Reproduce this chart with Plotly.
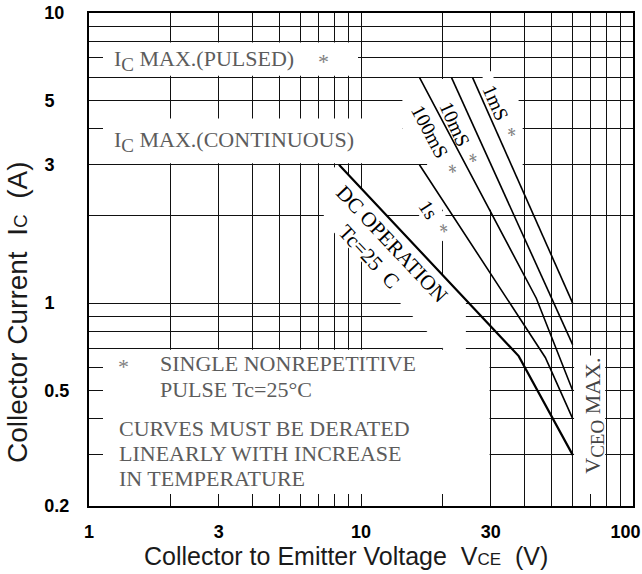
import math
import numpy as np
import plotly.graph_objects as go

# ---------------- data ----------------
vce_1ms = [25.7, 60.0]
ic_1ms = [6.0, 1.0]
vce_10ms = [21.5, 60.0]
ic_10ms = [6.0, 0.72]
vce_100ms = [16.4, 44.1, 60.0]
ic_100ms = [6.0, 1.04, 0.5]
vce_1s = [16.4, 47.6, 60.0]
ic_1s = [3.0, 0.65, 0.4]
vce_dc = [8.3, 38.0, 60.0]
ic_dc = [3.0, 0.657, 0.3]

ic_max_pulsed = 6.0
ic_max_cont = 3.0
vceo_max = 60.0

x_major = [1, 3, 10, 30, 100]
x_major_labels = ["1", "3", "10", "30", "100"]
x_minor = [2, 4, 5, 6, 7, 8, 9, 20, 40, 50, 60, 70, 80, 90]
y_major = [0.2, 0.5, 1, 3, 5, 10]
y_major_labels = ["0.2", "0.5", "1", "3", "5", "10"]
y_minor = [0.3, 0.4, 0.6, 0.7, 0.8, 0.9, 2, 4, 6, 7, 8, 9]

# ---------------- geometry ----------------
FW, FH = 642, 574
L, R, T, B = 89, 9, 13, 68
W, H = FW - L - R, FH - T - B
XR = (0.0, 2.0)
YR = (math.log10(0.2), 1.0)
NB = "\u00a0"


def to_px(x, y):
    px = L + (math.log10(x) - XR[0]) / (XR[1] - XR[0]) * W
    py = T + (YR[1] - math.log10(y)) / (YR[1] - YR[0]) * H
    return px, py


def to_data(px, py):
    x = 10 ** (XR[0] + (px - L) / W * (XR[1] - XR[0]))
    y = 10 ** (YR[1] - (py - T) / H * (YR[1] - YR[0]))
    return x, y


def paper(px, py):
    return (px - L) / W, (T + H - py) / H


def seg_frame(xs, ys, t, off):
    p0 = to_px(xs[0], ys[0])
    p1 = to_px(xs[1], ys[1])
    dx, dy = p1[0] - p0[0], p1[1] - p0[1]
    ln = math.hypot(dx, dy)
    ux, uy = dx / ln, dy / ln
    nx, ny = uy, -ux
    cx = p0[0] + t * ln * ux + off * nx
    cy = p0[1] + t * ln * uy + off * ny
    return cx, cy, math.degrees(math.atan2(uy, ux)), (ux, uy), (nx, ny)


# DC first segment (power law) used for the label background
dc_slope = math.log(ic_dc[1] / ic_dc[0]) / math.log(vce_dc[1] / vce_dc[0])


def dc_at(x):
    return ic_dc[0] * (x / vce_dc[0]) ** dc_slope


# ---------------- white label backgrounds (hide grid) ----------------
shapes = []
E = 1.012


def rect(x0, x1, y0, y1):
    shapes.append(dict(type="rect", xref="x", yref="y", x0=x0, x1=x1, y0=y0, y1=y1,
                       fillcolor="white", line=dict(width=0), layer="between"))


def poly(pts):
    path = "M " + " L ".join(f"{x:.5f},{y:.5f}" for x, y in pts) + " Z"
    shapes.append(dict(type="path", path=path, xref="x", yref="y",
                       fillcolor="white", line=dict(width=0), layer="between"))


rect(1, 9.75, ic_max_pulsed * E, 8 / E)           # IC MAX (PULSED)
rect(1, 14.2, ic_max_cont * E, 4.33)              # IC MAX (CONTINUOUS)
poly([(14.2, ic_max_pulsed / E), (36.5, ic_max_pulsed / E), (39.3, 4.3), (39.3, 2.1),
      (17.5, 2.1), (17.5, ic_max_cont * E), (14.2, ic_max_cont * E)])
rect(28, 30.7, 5.9, 6.3)                          # 1mS label top
x_low = vce_dc[0] * ((0.7 / E / 0.56) / ic_dc[0]) ** (1 / dc_slope)
poly([(7.3, 2.95), (8.5, dc_at(8.5)), (24.3, dc_at(24.3)), (24.3, 0.7 / E),
      (x_low, 0.7 / E), (7.3, 0.56 * dc_at(7.3))])  # DC OPERATION label
rect(1, 29.7, 0.2, 0.7 / E)                       # notes box
rect(vceo_max * E, 79, 0.2, 0.66)                 # VCEO MAX box

# 1s label background (rotated box)
cx, cy, ang1s, (ux, uy), (nx, ny) = seg_frame(vce_1s, ic_1s, 0.228, -17)
a, b = 24, 11
corners = [(cx - a * ux + b * nx, cy - a * uy + b * ny), (cx + a * ux + b * nx, cy + a * uy + b * ny),
           (cx + a * ux - b * nx, cy + a * uy - b * ny), (cx - a * ux - b * nx, cy - a * uy - b * ny)]
poly([to_data(px, py) for px, py in corners])

# ---------------- traces ----------------
fig = go.Figure()
for xs, ys, w in [(vce_1ms, ic_1ms, 1.6), (vce_10ms, ic_10ms, 1.6), (vce_100ms, ic_100ms, 1.6),
                  (vce_1s, ic_1s, 1.6), (vce_dc, ic_dc, 2.2)]:
    fig.add_trace(go.Scatter(x=xs, y=ys, mode="lines", line=dict(color="black", width=w),
                             hoverinfo="skip", showlegend=False))

# ---------------- annotations ----------------
ann = []
GREY = "#5c5c5c"
STAR = "<span style='color:#808080'>*</span>"
IC = "I<sub><span style='font-size:19px'>C</span></sub>"


def rot_label(text, xs, ys, t, off, size):
    cx, cy, ang, _, _ = seg_frame(xs, ys, t, off)
    xd, yd = to_data(cx, cy)
    ann.append(dict(x=math.log10(xd), y=math.log10(yd), xref="x", yref="y", text=text,
                    textangle=ang, showarrow=False, xanchor="center", yanchor="middle",
                    font=dict(family="Liberation Serif", size=size, color="black")))


rot_label("1mS" + NB * 2 + STAR, vce_1ms, ic_1ms, 0.172, 11.6, 20)
rot_label("10mS" + NB * 2 + STAR, vce_10ms, ic_10ms, 0.183, -16, 20)
rot_label("100mS" + NB * 2 + STAR, vce_100ms, ic_100ms, 0.254, -16, 20)
rot_label("1s" + NB * 2 + STAR, vce_1s, ic_1s, 0.228, -17, 20)
rot_label("DC OPERATION", vce_dc, ic_dc, 0.359, -16, 21)
rot_label("Tc=25" + NB * 2 + "C", vce_dc, ic_dc, 0.335, -41, 21)


def ptext(text, px, py, size=22, color=GREY, family="Liberation Serif", xanchor="left", angle=0):
    xp, yp = paper(px, py)
    ann.append(dict(x=xp, y=yp, xref="paper", yref="paper", text=text, showarrow=False,
                    xanchor=xanchor, yanchor="middle", textangle=angle,
                    font=dict(family=family, size=size, color=color)))


ptext(IC + " MAX.(PULSED)", 111.7, 60)
ptext("*", 323, 62, color="#808080", xanchor="center")
ptext(IC + " MAX.(CONTINUOUS)", 111.7, 141.5)
ptext("*", 123, 366, color="#808080", xanchor="center")
ptext("SINGLE NONREPETITIVE", 158.3, 364)
ptext("PULSE Tc=25°C", 158.3, 389)
ptext("CURVES MUST BE DERATED", 116.7, 428)
ptext("LINEARLY WITH INCREASE", 116.7, 453)
ptext("IN TEMPERATURE", 116.7, 478)

vx, vy = to_px(72, 0.41)
ptext("V<sub><span style='font-size:19px'>CEO</span></sub> MAX.", vx, vy, size=22, color="#444444",
      xanchor="center", angle=-90)

# axis titles
ptext("Collector to Emitter Voltage" + NB * 2 + "V<span style='font-size:17px'>CE</span>" + NB * 2 + "(V)",
      346, 556, size=25, color="#1a1a1a", family="Liberation Sans", xanchor="center")
ptext("Collector Current" + NB * 2 + "I<span style='font-size:19px'>C</span>" + NB * 2 + "(A)",
      17, 312, size=28, color="#1a1a1a", family="Liberation Sans", xanchor="center", angle=-90)

# ---------------- tick label text (left aligned look) ----------------
def lab_w(s):
    return sum(0.278 if ch == "." else 0.556 for ch in s)


wmax = max(lab_w(s) for s in y_major_labels)
y_ticktext = [s + NB * int(round((wmax - lab_w(s)) / 0.278)) for s in y_major_labels]
x_ticktext = [s + (NB * 3 if s == x_major_labels[-1] else "") for s in x_major_labels]

GRID = "#111111"
tickfont = dict(family="Liberation Sans", size=18, color="black", weight="bold")

fig.update_layout(
    template="none",
    width=FW, height=FH,
    margin=dict(l=L, r=R, t=T, b=B, pad=0, autoexpand=False),
    paper_bgcolor="white", plot_bgcolor="white",
    shapes=shapes, annotations=ann,
    xaxis=dict(type="log", range=list(XR), tickmode="array", tickvals=x_major, ticktext=x_ticktext,
               ticks="inside", ticklen=12, tickwidth=1.3, tickcolor=GRID,
               showgrid=True, gridcolor=GRID, gridwidth=1.3,
               minor=dict(tickmode="array", tickvals=x_minor, ticks="inside", ticklen=12, tickwidth=1.3,
                          tickcolor=GRID, showgrid=True, gridcolor=GRID, gridwidth=1.3),
               showline=True, linecolor="black", linewidth=2, mirror=True, automargin=False,
               ticklabeloverflow="allow",
               tickfont=tickfont, ticklabelstandoff=8, zeroline=False, fixedrange=True),
    yaxis=dict(type="log", range=list(YR), tickmode="array", tickvals=y_major, ticktext=y_ticktext,
               ticks="inside", ticklen=14, tickwidth=1.3, tickcolor=GRID,
               showgrid=True, gridcolor=GRID, gridwidth=1.3,
               minor=dict(tickmode="array", tickvals=y_minor, ticks="inside", ticklen=14, tickwidth=1.3,
                          tickcolor=GRID, showgrid=True, gridcolor=GRID, gridwidth=1.3),
               showline=True, linecolor="black", linewidth=2, mirror=True, automargin=False,
               ticklabeloverflow="allow",
               tickfont=tickfont, ticklabelstandoff=14, zeroline=False, fixedrange=True),
)

fig.write_html("out.html", config={"displayModeBar": False},
               post_script="document.body.style.margin='0px';document.body.style.overflow='hidden';")
